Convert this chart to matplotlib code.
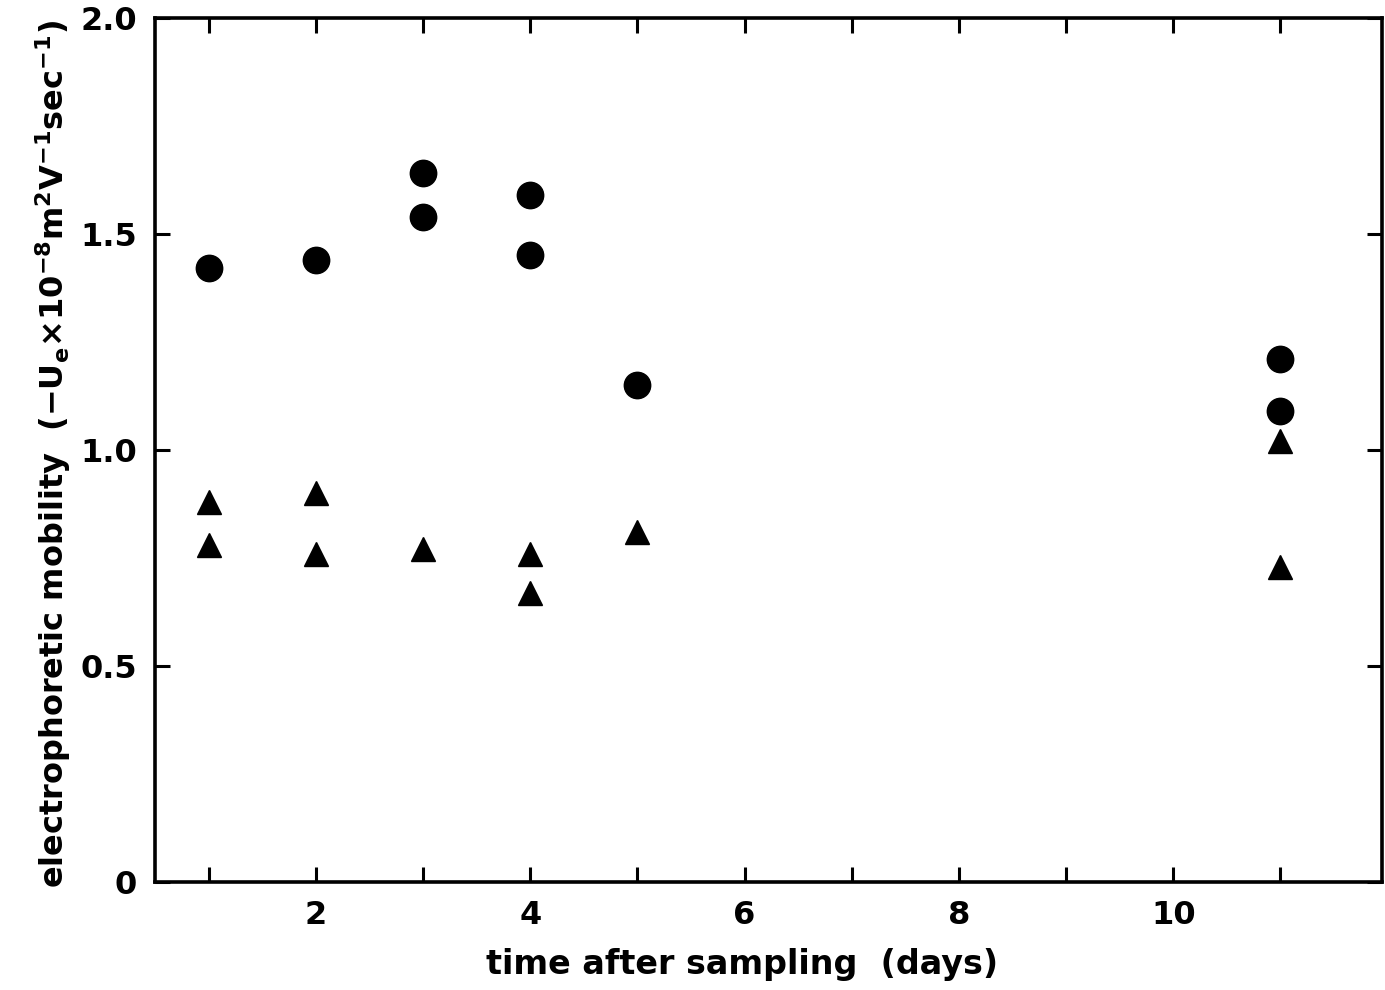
import matplotlib
matplotlib.use("Agg")
import matplotlib.pyplot as plt

plt.rcParams['font.family'] = ['DejaVu Sans']
plt.rcParams['font.weight'] = 'bold'
plt.rcParams['mathtext.fontset'] = 'custom'
plt.rcParams['mathtext.rm'] = 'DejaVu Sans:bold'
plt.rcParams['mathtext.it'] = 'DejaVu Sans:bold'
plt.rcParams['mathtext.bf'] = 'DejaVu Sans:bold'
plt.rcParams['mathtext.default'] = 'bf'

# Data
circle_days = [1, 2, 3, 3, 4, 4, 5, 11, 11]
circle_values = [1.42, 1.44, 1.64, 1.54, 1.59, 1.45, 1.15, 1.21, 1.09]
triangle_days = [1, 1, 2, 2, 3, 4, 4, 5, 11, 11]
triangle_values = [0.88, 0.78, 0.90, 0.76, 0.77, 0.76, 0.67, 0.81, 1.02, 0.73]

x_ticks = list(range(1, 12))
x_ticklabels = ['', '2', '', '4', '', '6', '', '8', '', '10', '']
y_ticks = [0, 0.5, 1.0, 1.5, 2.0]
y_ticklabels = ['0', '0.5', '1.0', '1.5', '2.0']

fig = plt.figure(figsize=(13.85, 9.9), dpi=100)
ax = fig.add_axes([0.112, 0.109, 0.886, 0.873])

ax.plot(circle_days, circle_values, 'o', color='black', markersize=19, linestyle='none')
ax.plot(triangle_days, triangle_values, '^', color='black', markersize=17, linestyle='none')

ax.set_xlim(0.5, 11.95)
ax.set_ylim(0, 2.0)

ax.set_xticks(x_ticks)
ax.set_xticklabels(x_ticklabels)
ax.set_yticks(y_ticks)
ax.set_yticklabels(y_ticklabels)

ax.tick_params(axis='both', direction='in', length=11, width=2.2, labelsize=23,
               top=True, right=True, pad=13)
for lbl in ax.get_xticklabels() + ax.get_yticklabels():
    lbl.set_fontweight('bold')

for s in ax.spines.values():
    s.set_linewidth(2.6)

ax.set_xlabel('time after sampling  (days)', fontsize=24, fontweight='bold', labelpad=12)
ax.xaxis.label.set_x(0.478)
ax.set_ylabel(r'electrophoretic mobility  $(-U_e{\times}10^{-8}m^2V^{-1}sec^{-1})$',
              fontsize=23, fontweight='bold', labelpad=5)
ax.yaxis.label.set_y(0.495)

fig.savefig('out.png', dpi=100, facecolor='white')
